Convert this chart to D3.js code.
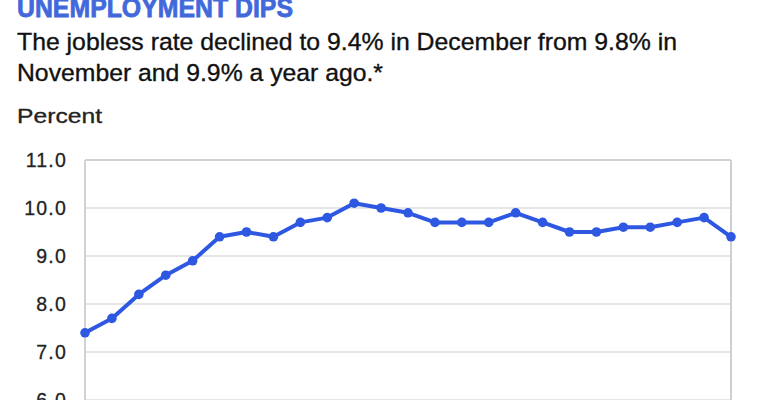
<!DOCTYPE html>
<html>
<head>
<meta charset="utf-8">
<script src="https://cdn.jsdelivr.net/npm/d3@7"></script>
<style>
  html, body { margin: 0; padding: 0; background: #fff; }
  svg { display: block; font-family: "Liberation Sans", Arial, sans-serif; }
</style>
</head>
<body>
<svg id="chart" width="770" height="400"></svg>
<script>
// Monthly unemployment rate, Dec 2008 – Dec 2010
const months = ["Dec 08","Jan 09","Feb 09","Mar 09","Apr 09","May 09","Jun 09","Jul 09","Aug 09","Sep 09","Oct 09","Nov 09","Dec 09",
                "Jan 10","Feb 10","Mar 10","Apr 10","May 10","Jun 10","Jul 10","Aug 10","Sep 10","Oct 10","Nov 10","Dec 10"];
const rates = [7.4, 7.7, 8.2, 8.6, 8.9, 9.4, 9.5, 9.4, 9.7, 9.8, 10.1, 10.0, 9.9,
               9.7, 9.7, 9.7, 9.9, 9.7, 9.5, 9.5, 9.6, 9.6, 9.7, 9.8, 9.4];
const yTicks = [6, 7, 8, 9, 10, 11];
const titleText = "UNEMPLOYMENT DIPS";
const subtitleLines = ["The jobless rate declined to 9.4% in December from 9.8% in",
                       "November and 9.9% a year ago.*"];
const unitLabel = "Percent";

const svg = d3.select("#chart");
const plotLeft = 85, plotRight = 731, plotTop = 160;

const x = d3.scalePoint().domain(months).range([plotLeft, plotRight]);
const y = d3.scaleLinear().domain([5, 11]).range([448, plotTop]);

// Title & subtitle
svg.append("text").attr("x", 17).attr("y", 17)
  .attr("font-size", 28).attr("font-weight", "bold").attr("fill", "#4169dc")
  .attr("stroke", "#4169dc").attr("stroke-width", 0.8)
  .attr("textLength", 276).attr("lengthAdjust", "spacingAndGlyphs")
  .text(titleText);

const subLens = [660, 366];
subtitleLines.forEach((s, i) => {
  svg.append("text").attr("x", 17).attr("y", 50 + i * 31)
    .attr("font-size", 24.5).attr("fill", "#111")
    .attr("stroke", "#111").attr("stroke-width", 0.35)
    .attr("textLength", subLens[i]).attr("lengthAdjust", "spacingAndGlyphs")
    .text(s);
});

svg.append("text").attr("x", 17).attr("y", 123)
  .attr("font-size", 19.5).attr("fill", "#222")
  .attr("stroke", "#222").attr("stroke-width", 0.3)
  .attr("textLength", 85).attr("lengthAdjust", "spacingAndGlyphs")
  .text(unitLabel);

// Gridlines
svg.append("g").selectAll("line").data(yTicks.filter(d => d < 11)).join("line")
  .attr("x1", plotLeft).attr("x2", plotRight)
  .attr("y1", d => y(d)).attr("y2", d => y(d))
  .attr("stroke", "#e6e6e6").attr("stroke-width", 2);

// Frame
svg.append("line").attr("x1", plotLeft).attr("x2", plotRight).attr("y1", y(11)).attr("y2", y(11))
  .attr("stroke", "#d2d2d2").attr("stroke-width", 2);
svg.append("line").attr("x1", plotLeft).attr("x2", plotLeft).attr("y1", y(11)).attr("y2", 400)
  .attr("stroke", "#d2d2d2").attr("stroke-width", 2);
svg.append("line").attr("x1", plotRight).attr("x2", plotRight).attr("y1", y(11)).attr("y2", 400)
  .attr("stroke", "#cfcfcf").attr("stroke-width", 2);

// Y axis labels
const yAxis = d3.axisLeft(y).tickValues(yTicks).tickFormat(d3.format(".1f")).tickSize(0).tickPadding(18);
const ga = svg.append("g").attr("transform", `translate(${plotLeft},0)`).call(yAxis);
ga.select(".domain").remove();
ga.selectAll("text").attr("font-size", 19.5).attr("fill", "#222")
  .attr("stroke", "#222").attr("stroke-width", 0.3)
  .attr("letter-spacing", 1.2)
  .attr("font-family", "Liberation Sans, Arial, sans-serif");

// Line
const line = d3.line().x((d, i) => x(months[i])).y(d => y(d));
svg.append("path").datum(rates).attr("d", line)
  .attr("fill", "none").attr("stroke", "#2f58e2").attr("stroke-width", 4)
  .attr("stroke-linejoin", "round").attr("stroke-linecap", "round");

svg.append("g").selectAll("circle").data(rates).join("circle")
  .attr("cx", (d, i) => x(months[i])).attr("cy", d => y(d)).attr("r", 4.8)
  .attr("fill", "#2f58e2");
</script>
</body>
</html>
